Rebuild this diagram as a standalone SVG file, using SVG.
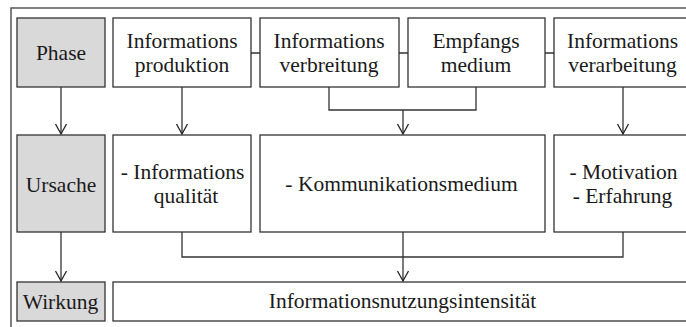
<svg xmlns="http://www.w3.org/2000/svg" width="686" height="327" viewBox="0 0 686 327">
<defs>
<style>
.box{fill:#fff;stroke:#333;stroke-width:1.3}
.g{fill:#d9d9d9}
.t{font-family:"Liberation Serif","Times New Roman",serif;font-size:21.5px;fill:#1a1a1a;text-anchor:middle}
.c{fill:none;stroke:#333;stroke-width:1.3}
.frame{fill:none;stroke:#555;stroke-width:1.5}
</style>
<marker id="v" markerUnits="userSpaceOnUse" viewBox="-12 -7 14 14" markerWidth="14" markerHeight="14" refX="0" refY="0" orient="auto" overflow="visible">
<path d="M-10,-5.5 L0,0 L-10,5.5" fill="none" stroke="#222" stroke-width="1.3"/>
</marker>
</defs>
<rect class="frame" x="11" y="8" width="690" height="330"/>
<g id="phase"><rect class="box g" x="17" y="18" width="88" height="69"/><text class="t" x="61" y="60">Phase</text></g>
<g id="produktion"><rect class="box" x="113" y="18" width="138" height="69"/><text class="t" x="182" y="48">Informations</text><text class="t" x="182" y="72">produktion</text></g>
<g id="verbreitung"><rect class="box" x="260" y="18" width="139" height="69"/><text class="t" x="329" y="48">Informations</text><text class="t" x="329" y="72">verbreitung</text></g>
<g id="empfang"><rect class="box" x="408" y="18" width="137" height="69"/><text class="t" x="476" y="48">Empfangs</text><text class="t" x="476" y="72">medium</text></g>
<g id="verarbeitung"><rect class="box" x="554" y="18" width="140" height="69"/><text class="t" x="622.5" y="48">Informations</text><text class="t" x="622.5" y="72">verarbeitung</text></g>
<g id="ursache"><rect class="box g" x="17" y="135" width="88" height="97"/><text class="t" x="61" y="192">Ursache</text></g>
<g id="qualitaet"><rect class="box" x="113" y="135" width="138" height="97"/><text class="t" x="182.5" y="179">- Informations</text><text class="t" x="186" y="203">qualität</text></g>
<g id="kommunikation"><rect class="box" x="260" y="135" width="285" height="97"/><text class="t" x="401.5" y="191">- Kommunikationsmedium</text></g>
<g id="motivation"><rect class="box" x="554" y="135" width="140" height="97"/><text class="t" x="623.5" y="179">- Motivation</text><text class="t" x="622.5" y="203">- Erfahrung</text></g>
<g id="wirkung"><rect class="box g" x="17" y="282" width="88" height="39"/><text class="t" x="60.5" y="309">Wirkung</text></g>
<g id="intensitaet"><rect class="box" x="113" y="282" width="581" height="39"/><text class="t" x="402.5" y="308">Informationsnutzungsintensität</text></g>
<g id="connectors">
<path class="c" d="M251,53H260M399,53H408M545,53H554"/>
<path class="c" d="M61,87V134" marker-end="url(#v)"/>
<path class="c" d="M182,87V134" marker-end="url(#v)"/>
<path class="c" d="M329,87V110H476V87"/>
<path class="c" d="M403,110V134" marker-end="url(#v)"/>
<path class="c" d="M623,87V134" marker-end="url(#v)"/>
<path class="c" d="M61,232V281" marker-end="url(#v)"/>
<path class="c" d="M182,232V257H623V232"/>
<path class="c" d="M403,232V257"/>
<path class="c" d="M403,257V281" stroke-width="1.8" marker-end="url(#v)"/>
</g>
</svg>
